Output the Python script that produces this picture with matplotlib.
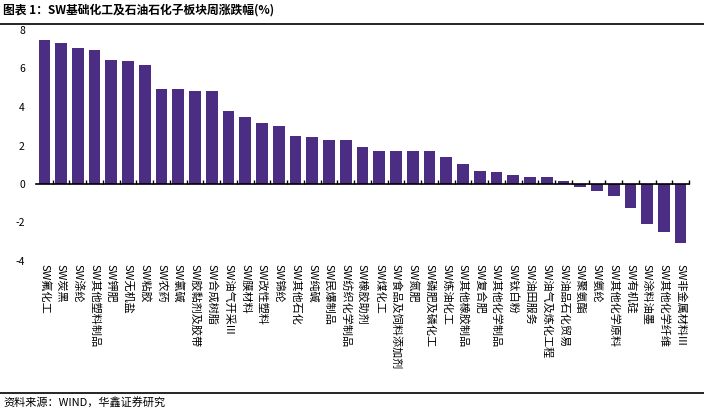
import numpy as np
import matplotlib.pyplot as plt
import matplotlib.transforms as mtransforms

plt.rcParams['font.family'] = ['Noto Sans CJK SC', 'DejaVu Sans']
plt.rcParams['axes.unicode_minus'] = False

# sub-sector names and weekly change (%)
sectors = ['SW氟化工', 'SW炭黑', 'SW涤纶', 'SW其他塑料制品', 'SW钾肥', 'SW无机盐', 'SW粘胶',
           'SW农药', 'SW氯碱', 'SW胶黏剂及胶带', 'SW合成树脂', 'SW油气开采III', 'SW膜材料',
           'SW改性塑料', 'SW锦纶', 'SW其他石化', 'SW纯碱', 'SW民爆制品', 'SW纺织化学制品',
           'SW橡胶助剂', 'SW煤化工', 'SW食品及饲料添加剂', 'SW氮肥', 'SW磷肥及磷化工',
           'SW炼油化工', 'SW其他橡胶制品', 'SW复合肥', 'SW其他化学制品', 'SW钛白粉',
           'SW油田服务', 'SW油气及炼化工程', 'SW油品石化贸易', 'SW聚氨酯', 'SW氨纶',
           'SW其他化学原料', 'SW有机硅', 'SW涂料油墨', 'SW其他化学纤维', 'SW非金属材料III']
changes = [7.48, 7.35, 7.07, 6.96, 6.44, 6.37, 6.16, 4.92, 4.92, 4.83, 4.83, 3.78, 3.48,
           3.15, 3.01, 2.49, 2.44, 2.29, 2.29, 1.91, 1.73, 1.73, 1.73, 1.70, 1.38, 1.05,
           0.67, 0.64, 0.45, 0.38, 0.36, 0.17, -0.17, -0.36, -0.60, -1.25, -2.08, -2.49, -3.08]
yticks = [-4, -2, 0, 2, 4, 6, 8]

fig = plt.figure(figsize=(7.04, 4.09), dpi=100)
ax = fig.add_axes([36 / 704, 1 - 261 / 409, (689 - 36) / 704, (261 - 30) / 409])

x = np.arange(len(sectors))
ax.bar(x, changes, width=0.7, color='#4B2E83')

ax.set_xlim(-0.5, len(sectors) - 0.5)
ax.set_ylim(-4, 8)
ax.set_yticks(yticks)
ax.tick_params(axis='y', length=0, labelsize=7.5, pad=8)

# x axis drawn at zero, with small ticks between categories
for s in ['top', 'right', 'left']:
    ax.spines[s].set_visible(False)
ax.spines['bottom'].set_position(('data', 0))
ax.spines['bottom'].set_linewidth(1.2)
ax.set_xticks(x[:-1] + 0.5)
ax.set_xticks([len(sectors) - 0.5], minor=True)
ax.tick_params(axis='x', which='both', direction='in', length=3, width=1, labelbottom=False)

# category labels under the plot area
trans = mtransforms.blended_transform_factory(ax.transData, ax.transAxes)
for xi, name in zip(x, sectors):
    ax.text(xi, -0.015, name, transform=trans, rotation=270, ha='center', va='top',
            fontsize=8)

# title and source with rules
fig.text(3 / 704, 1 - 10 / 409, '图表 1：SW基础化工及石油石化子板块周涨跌幅(%)',
         fontsize=8.5, fontweight='bold', va='center', ha='left')
fig.add_artist(plt.Line2D([0, 1], [1 - 24 / 409, 1 - 24 / 409], color='black', lw=1.2))
fig.add_artist(plt.Line2D([0, 1], [1 - 393 / 409, 1 - 393 / 409], color='black', lw=1.2))
fig.text(3 / 704, 1 - 402 / 409, '资料来源：WIND，华鑫证券研究', fontsize=8, va='center', ha='left')

fig.savefig('out.png', dpi=100)
